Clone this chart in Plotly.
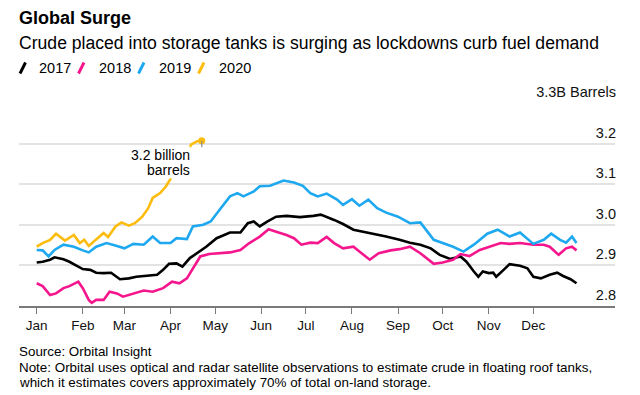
import plotly.graph_objects as go
import pandas as pd

MONTHS = ["Jan", "Feb", "Mar", "Apr", "May", "Jun", "Jul", "Aug", "Sep", "Oct", "Nov", "Dec"]
Y_TICKS = [2.8, 2.9, 3.0, 3.1, 3.2, 3.3]
Y_TICK_TEXT = ["2.8", "2.9", "3.0", "3.1", "3.2", "3.3B Barrels"]

DAYS_2017 = [0, 4, 9, 12, 18, 22, 27, 31, 36, 40, 45, 50, 56, 62, 67, 74, 81, 85, 89, 94, 98, 103, 108, 114,
             121, 130, 137, 142, 146, 150, 155, 161, 168, 177, 186, 191, 200, 206, 213, 220, 226, 235, 244,
             251, 258, 265, 271, 278, 285, 289, 294, 297, 300, 304, 307, 309, 314, 318, 325, 330, 334, 339,
             345, 350, 354, 359, 363]
VAL_2017 = [2.907, 2.909, 2.914, 2.920, 2.915, 2.909, 2.899, 2.891, 2.889, 2.882, 2.881, 2.882, 2.866, 2.868,
            2.872, 2.875, 2.877, 2.889, 2.904, 2.905, 2.897, 2.918, 2.930, 2.946, 2.967, 2.981, 2.981, 3.004,
            3.008, 2.996, 3.008, 3.020, 3.022, 3.019, 3.022, 3.025, 3.012, 3.002, 2.988, 2.983, 2.979, 2.971,
            2.963, 2.956, 2.951, 2.942, 2.926, 2.916, 2.922, 2.909, 2.885, 2.872, 2.885, 2.881, 2.882, 2.872,
            2.889, 2.903, 2.899, 2.893, 2.872, 2.868, 2.877, 2.882, 2.874, 2.866, 2.856]

DAYS_2018 = [0, 4, 9, 13, 18, 22, 28, 31, 35, 37, 40, 45, 49, 54, 58, 65, 72, 78, 85, 91, 96, 101, 105, 110,
             116, 123, 130, 137, 143, 150, 156, 161, 168, 173, 178, 184, 189, 195, 200, 206, 213, 217, 224,
             230, 238, 244, 251, 258, 267, 273, 280, 285, 291, 298, 305, 312, 318, 325, 334, 341, 345, 351,
             356, 360, 363]
VAL_2018 = [2.856, 2.849, 2.827, 2.831, 2.844, 2.849, 2.860, 2.844, 2.815, 2.808, 2.815, 2.815, 2.835, 2.831,
            2.823, 2.831, 2.838, 2.835, 2.844, 2.860, 2.856, 2.868, 2.893, 2.922, 2.928, 2.930, 2.932, 2.938,
            2.955, 2.971, 2.989, 2.983, 2.975, 2.967, 2.951, 2.956, 2.955, 2.970, 2.955, 2.942, 2.946, 2.934,
            2.914, 2.930, 2.937, 2.940, 2.946, 2.930, 2.904, 2.907, 2.914, 2.928, 2.923, 2.938, 2.946, 2.955,
            2.953, 2.955, 2.951, 2.951, 2.946, 2.926, 2.942, 2.946, 2.937]

DAYS_2019 = [0, 4, 8, 12, 18, 25, 31, 35, 40, 47, 54, 59, 65, 72, 78, 83, 90, 94, 101, 105, 112, 117, 123,
             130, 135, 139, 146, 150, 157, 166, 173, 179, 184, 189, 195, 202, 206, 212, 217, 223, 229, 235,
             243, 251, 258, 262, 267, 273, 280, 287, 294, 303, 310, 318, 325, 334, 341, 346, 352, 356, 360,
             363]
VAL_2019 = [2.938, 2.937, 2.922, 2.938, 2.951, 2.946, 2.937, 2.932, 2.946, 2.955, 2.948, 2.942, 2.953, 2.951,
            2.971, 2.955, 2.955, 2.967, 2.965, 2.996, 3.000, 3.008, 3.037, 3.070, 3.078, 3.070, 3.082, 3.095,
            3.096, 3.109, 3.104, 3.096, 3.078, 3.070, 3.077, 3.062, 3.049, 3.063, 3.047, 3.062, 3.041, 3.030,
            3.020, 3.004, 3.006, 2.988, 2.963, 2.955, 2.946, 2.934, 2.951, 2.978, 2.988, 2.971, 2.981, 2.953,
            2.963, 2.978, 2.963, 2.956, 2.971, 2.955]

DAYS_2020 = [0, 4, 9, 13, 19, 25, 29, 32, 35, 40, 45, 48, 53, 57, 62, 66, 71, 75, 78, 83, 87, 91, 94, 98,
             101, 104, 108, 111]
VAL_2020 = [2.946, 2.955, 2.963, 2.978, 2.961, 2.975, 2.955, 2.963, 2.948, 2.963, 2.980, 2.970, 2.996, 3.006,
            2.998, 3.004, 3.020, 3.041, 3.066, 3.078, 3.095, 3.119, 3.142, 3.160, 3.181, 3.198, 3.206, 3.207]

SERIES = [("2017", DAYS_2017, VAL_2017, "#000000"),
          ("2018", DAYS_2018, VAL_2018, "#f5168e"),
          ("2019", DAYS_2019, VAL_2019, "#1ea8f0"),
          ("2020", DAYS_2020, VAL_2020, "#fcbc0d")]

BASE = pd.Timestamp("2019-01-01")


def to_dates(days):
    return [BASE + pd.Timedelta(days=d) for d in days]


# The page body has an 8px margin, so the figure is drawn 8px in from the top-left corner.
OFF = 8
W, H = 640 - OFF, 395 - OFF
L, R, T, B = 19 - OFF, 640 - 615, 103 - OFF, 395 - 306
PW, PH = W - L - R, H - T - B


def px(x):
    return (x - OFF - L) / PW


def py(y):
    return (H - B - (y - OFF)) / PH


FONT = "Liberation Sans, Arial, sans-serif"

fig = go.Figure()
for name, days, vals, color in SERIES:
    fig.add_trace(go.Scatter(x=to_dates(days), y=vals, mode="lines", name=name,
                             line=dict(color=color, width=2.6), showlegend=False,
                             hoverinfo="skip"))

last_x = to_dates(DAYS_2020)[-1]
last_y = VAL_2020[-1]
fig.add_trace(go.Scatter(x=[last_x], y=[last_y], mode="markers", showlegend=False,
                         marker=dict(color="#fcbc0d", size=7), hoverinfo="skip"))
fig.add_shape(type="line", x0=last_x, x1=last_x, y0=last_y, y1=last_y - 0.016,
              line=dict(color="#8c8c8c", width=1.2))

month_ticks = to_dates([0, 31, 59, 90, 120, 151, 181, 212, 243, 273, 304, 334])

fig.update_xaxes(type="date", range=[BASE - pd.Timedelta(days=11.9), BASE + pd.Timedelta(days=388.9)],
                 tickvals=month_ticks, ticktext=MONTHS, showgrid=False, zeroline=False, automargin=False,
                 showline=True, linecolor="#7a7a7a", linewidth=1.5,
                 ticks="outside", ticklen=6, tickcolor="#7a7a7a", tickwidth=1.2,
                 tickfont=dict(family=FONT, size=13.5, color="#111111"))
fig.update_yaxes(range=[2.8, 3.3], side="right", tickvals=Y_TICKS, ticktext=Y_TICK_TEXT,
                 ticklabelposition="inside top", ticklabeloverflow="allow", ticklabelshift=-1,
                 ticklabelstandoff=-4, ticklen=0, automargin=False,
                 showgrid=True, gridcolor="#e3e3e3", gridwidth=1.5, zeroline=False, showline=False,
                 ticks="", tickfont=dict(family=FONT, size=14.5, color="#111111"))

annotations = [
    dict(text="<b>Global Surge</b>", x=px(17), y=py(18), size=18),
    dict(text="Crude placed into storage tanks is surging as lockdowns curb fuel demand",
         x=px(17), y=py(42.5), size=17.6),
    dict(text="Source: Orbital Insight", x=px(17), y=py(351), size=13.4),
    dict(text="Note: Orbital uses optical and radar satellite observations to estimate crude in "
              "floating roof tanks,", x=px(17), y=py(367), size=13.4),
    dict(text="which it estimates covers approximately 70% of total on-land storage.",
         x=px(17), y=py(382.5), size=13.4),
]
LEGEND_TEXT_X = [36.5, 96.5, 156.5, 216.5]
LEGEND_SLASH_X = [20, 78.5, 138.5, 198.5]
for (name, _, _, color), tx, sx in zip(SERIES, LEGEND_TEXT_X, LEGEND_SLASH_X):
    annotations.append(dict(text=name, x=px(tx), y=py(68), size=14.5))
    fig.add_shape(type="line", xref="paper", yref="paper", x0=px(sx), x1=px(sx + 5.5),
                  y0=py(73.5), y1=py(62.5), line=dict(color=color, width=3))

for a in annotations:
    size = a.pop("size")
    fig.add_annotation(xref="paper", yref="paper", showarrow=False, xanchor="left", yanchor="middle",
                       align="left", font=dict(size=size, color="#000000"), **a)

for line_text, dy in [("3.2 billion", -14.7), ("barrels", -29.7)]:
    fig.add_annotation(text=line_text, x=last_x, y=last_y, xref="x", yref="y",
                       xanchor="right", yanchor="middle", xshift=-11, yshift=dy,
                       bgcolor="white", borderpad=0,
                       showarrow=False, font=dict(size=14, color="#000000"))

fig.update_layout(width=W, height=H, margin=dict(l=L, r=R, t=T, b=B, autoexpand=False),
                  paper_bgcolor="white", plot_bgcolor="white",
                  font=dict(family=FONT, color="#000000"), showlegend=False)

fig.write_html("out.html")
